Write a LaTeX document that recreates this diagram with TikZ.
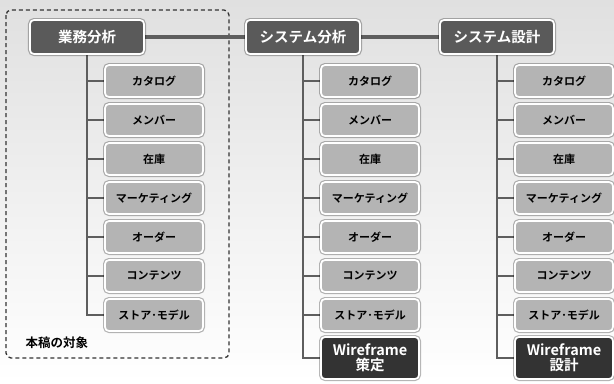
\documentclass[tikz,border=0pt]{standalone}
\usepackage{fontspec}
\newfontfamily\jp{Noto Sans CJK JP}[BoldFont={Noto Sans CJK JP Bold}]
\usetikzlibrary{shadows}
\pgfdeclarelayer{bg}
\pgfdeclarelayer{lines}
\pgfsetlayers{bg,lines,main}
\definecolor{topfill}{HTML}{5A5A5A}
\definecolor{childfill}{HTML}{B4B4B4}
\definecolor{wirefill}{HTML}{333333}
\definecolor{linec}{HTML}{5E5E5E}
\definecolor{bgtop}{HTML}{E0E0E0}
\definecolor{bgmid}{HTML}{F0F0F0}
\tikzset{
  base/.style={draw=white, line width=1.7bp, rounded corners=4bp, inner sep=0pt,
    preaction={draw=black, draw opacity=0.28, line width=4bp},
    drop shadow={shadow xshift=0.8bp, shadow yshift=-1bp, opacity=0.3}},
  topbox/.style={base, fill=topfill, text=white, minimum width=114bp, minimum height=34bp,
    font=\jp\bfseries\fontsize{14.5bp}{16bp}\selectfont},
  childbox/.style={base, fill=childfill, text=black, minimum width=98bp, minimum height=32bp,
    font=\jp\bfseries\fontsize{11bp}{13bp}\selectfont},
  wirebox/.style={base, fill=wirefill, text=white, minimum width=98bp, minimum height=42bp,
    align=center, font=\jp\bfseries\fontsize{14.5bp}{15.5bp}\selectfont},
  trunk/.style={draw=linec, line width=2bp},
  mainlink/.style={draw=linec, line width=4bp},
  scopebox/.style={draw=black!80, line width=1.3bp, dash pattern=on 4bp off 3bp, rounded corners=5bp},
}
\begin{document}
\begin{tikzpicture}[x=1bp, y=-1bp]
\begin{pgfonlayer}{bg}
\shade[top color=bgtop, middle color=bgmid, bottom color=white] (0,0) rectangle (614,383);
\draw[scopebox] (6,10) rectangle (229,358);
\end{pgfonlayer}
\useasboundingbox (0,0) rectangle (614,383);

\node[anchor=west, font=\jp\bfseries\fontsize{12.5bp}{14bp}\selectfont] (scope) at (22,343) {本稿の対象};

\node[topbox] (A) at (87,37) {業務分析};
\node[topbox] (B) at (303,37) {システム分析};
\node[topbox] (C) at (497,37) {システム設計};

\foreach \col/\cx in {A/154, B/370, C/564}{
  \foreach \i/\lab in {1/カタログ, 2/メンバー, 3/在庫, 4/マーケティング, 5/オーダー, 6/コンテンツ, 7/ストア･モデル}{
    \node[childbox] (\col\i) at (\cx, 81+39*\i-39) {\lab};
  }
}
\node[wirebox] (B8) at (370,358) {Wireframe\\策定};
\node[wirebox] (C8) at (564,358) {Wireframe\\設計};

\begin{pgfonlayer}{lines}
\draw[mainlink] (A.east) -- (B.west);
\draw[mainlink] (B.east) -- (C.west);
\foreach \col/\n in {A/7, B/8, C/8}{
  \foreach \i in {1,...,\n}{
    \draw[trunk] (\col.south) |- (\col\i.west);
  }
}
\end{pgfonlayer}
\end{tikzpicture}
\end{document}
